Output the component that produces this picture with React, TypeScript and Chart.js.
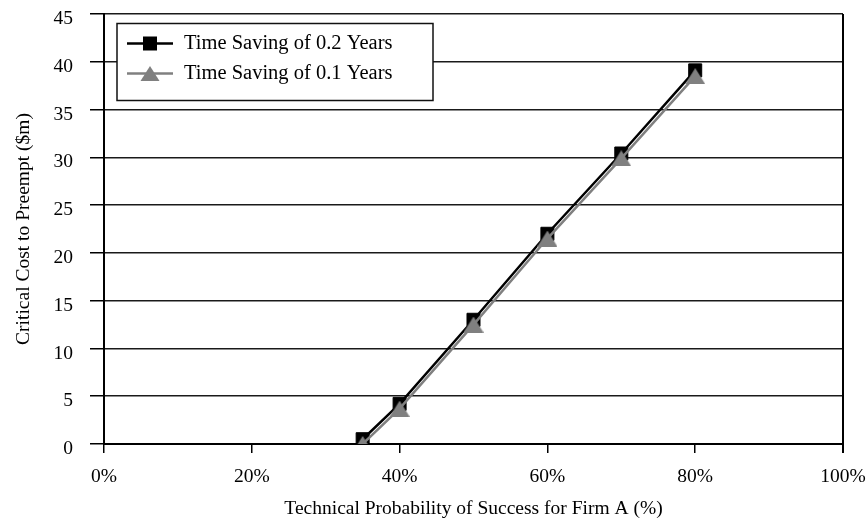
import React, { useEffect, useRef } from 'react';
import { Chart, registerables } from 'chart.js';

Chart.register(...registerables);

// ---- data ----
const probabilityPct = [35, 40, 50, 60, 70, 80];
const saving02Years = [0.5, 4.2, 13.0, 22.0, 30.4, 39.1];
const saving01Years = [0, 3.7, 12.5, 21.5, 29.9, 38.5];
const seriesNames = ['Time Saving of 0.2 Years', 'Time Saving of 0.1 Years'];
const seriesColors = ['#000000', '#808080'];
const xAxisTitle = 'Technical Probability of Success for Firm A (%)';
const yAxisTitle = 'Critical Cost to Preempt ($m)';
const xMin = 0, xMax = 100, xStep = 20;
const yMin = 0, yMax = 45, yStep = 5;

const FONT = '"Liberation Serif", "Times New Roman", serif';

function makeTriangle(w: number, h: number, color: string) {
  const c = document.createElement('canvas');
  c.width = w;
  c.height = h;
  const ctx = c.getContext('2d')!;
  ctx.fillStyle = color;
  ctx.beginPath();
  ctx.moveTo(w / 2, 0);
  ctx.lineTo(w, h);
  ctx.lineTo(0, h);
  ctx.closePath();
  ctx.fill();
  return c;
}

const frameAndLegend = {
  id: 'frameAndLegend',
  afterDraw(chart: any) {
    const { ctx, chartArea } = chart;
    ctx.save();
    // right frame line
    ctx.strokeStyle = '#000';
    ctx.lineWidth = 2;
    ctx.beginPath();
    ctx.moveTo(chartArea.right, chartArea.top);
    ctx.lineTo(chartArea.right, chartArea.bottom + 9);
    ctx.stroke();

    // legend box
    const left = chartArea.left + 13;
    const top = chartArea.top + 9.5;
    const w = 316;
    const h = 77;
    ctx.fillStyle = '#fff';
    ctx.fillRect(left, top, w, h);
    ctx.lineWidth = 1.5;
    ctx.strokeStyle = '#111';
    ctx.strokeRect(left, top, w, h);

    const rows = [top + 20, top + 50];
    rows.forEach((y, i) => {
      const color = seriesColors[i];
      ctx.strokeStyle = color;
      ctx.lineWidth = 2.5;
      ctx.beginPath();
      ctx.moveTo(left + 10, y);
      ctx.lineTo(left + 56, y);
      ctx.stroke();
      ctx.fillStyle = color;
      const cx = left + 33;
      if (i === 0) {
        ctx.fillRect(cx - 7, y - 7, 14, 14);
      } else {
        ctx.beginPath();
        ctx.moveTo(cx, y - 7.5);
        ctx.lineTo(cx + 9.5, y + 7.5);
        ctx.lineTo(cx - 9.5, y + 7.5);
        ctx.closePath();
        ctx.fill();
      }
      ctx.fillStyle = '#000';
      ctx.font = `20.5px ${FONT}`;
      ctx.textBaseline = 'middle';
      ctx.textAlign = 'left';
      ctx.fillText(seriesNames[i], left + 67, y + 0.5);
    });
    ctx.restore();
  },
};

export default function App() {
  const ref = useRef<HTMLCanvasElement>(null);

  useEffect(() => {
    if (!ref.current) return;
    const tri = makeTriangle(20, 16, seriesColors[1]);
    const chart = new Chart(ref.current, {
      type: 'line',
      data: {
        datasets: [
          {
            label: seriesNames[0],
            data: probabilityPct.map((x, i) => ({ x, y: saving02Years[i] })),
            borderColor: seriesColors[0],
            backgroundColor: seriesColors[0],
            borderWidth: 2.5,
            pointStyle: 'rect',
            pointRadius: 9.2,
            pointBorderWidth: 1,
            pointBackgroundColor: seriesColors[0],
            pointBorderColor: seriesColors[0],
            tension: 0,
            order: 1,
          },
          {
            label: seriesNames[1],
            data: probabilityPct.map((x, i) => ({ x, y: saving01Years[i] })),
            borderColor: seriesColors[1],
            backgroundColor: seriesColors[1],
            borderWidth: 2.5,
            pointStyle: tri as any,
            pointRadius: 10,
            tension: 0,
            order: 0,
          },
        ],
      },
      options: {
        responsive: false,
        devicePixelRatio: 1,
        animation: false,
        events: [],
        layout: { padding: { left: 0, right: 25, top: 14, bottom: 0 } },
        plugins: {
          legend: { display: false },
          tooltip: { enabled: false },
        },
        scales: {
          x: {
            type: 'linear',
            min: xMin,
            max: xMax,
            afterFit: (s: any) => {
              s.height = 77;
              s.paddingLeft = 0;
              s.paddingRight = 0;
            },
            ticks: {
              stepSize: xStep,
              callback: (v: any) => v + '%',
              color: '#000',
              font: { family: FONT, size: 19.5 },
              padding: 12,
              maxRotation: 0,
              autoSkip: false,
            },
            grid: {
              drawOnChartArea: false,
              drawTicks: true,
              tickLength: 9,
              color: '#000',
              lineWidth: 1.5,
            },
            border: { display: true, color: '#000', width: 2 },
            title: {
              display: true,
              text: xAxisTitle,
              color: '#000',
              font: { family: FONT, size: 19.5 },
              padding: { top: 0, bottom: 0 },
            },
          },
          y: {
            type: 'linear',
            min: yMin,
            max: yMax,
            afterFit: (s: any) => {
              s.width = 104;
              s.paddingTop = 0;
              s.paddingBottom = 0;
            },
            ticks: {
              stepSize: yStep,
              color: '#000',
              font: { family: FONT, size: 19.5 },
              padding: 17,
              labelOffset: 5,
            },
            grid: {
              color: '#1a1a1a',
              lineWidth: 1.5,
              tickLength: 14,
              tickColor: '#000',
            },
            border: { display: true, color: '#000', width: 2 },
            title: {
              display: true,
              text: yAxisTitle,
              color: '#000',
              font: { family: FONT, size: 19.5 },
              padding: { top: 12, bottom: 0 },
            },
          },
        },
      },
      plugins: [frameAndLegend],
    });
    return () => chart.destroy();
  }, []);

  return (
    <div style={{ position: 'absolute', left: 0, top: 0, width: 868, height: 521, background: '#fff' }}>
      <canvas ref={ref} width={868} height={521} style={{ display: 'block' }} />
    </div>
  );
}
